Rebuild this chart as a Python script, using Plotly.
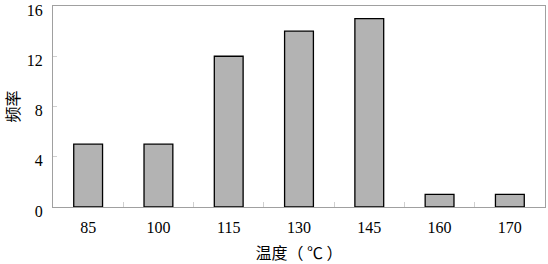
import plotly.graph_objects as go

categories = ["85", "100", "115", "130", "145", "160", "170"]
values = [5, 5, 12, 14, 15, 1, 1]
y_ticks = [0, 4, 8, 12, 16]

fig = go.Figure(go.Bar(
    x=categories, y=values, width=0.41,
    marker=dict(color="#b3b3b3", line=dict(color="#000000", width=1.3)),
))

fig.update_layout(
    width=548, height=264,
    margin=dict(l=51, r=2, t=2, b=57),
    paper_bgcolor="white", plot_bgcolor="white",
    showlegend=False,
    font=dict(family="Liberation Serif", size=16, color="#000000"),
)
fig.update_xaxes(
    type="category", showline=True, linecolor="#a0a0a0", linewidth=1.2, mirror=True,
    ticks="inside", tickson="boundaries", ticklen=5, tickcolor="#d0d0d0",
    showgrid=False, ticklabelstandoff=6,
    title=dict(text="温度（ ℃ ）", font=dict(family="Noto Sans CJK SC", size=16), standoff=14),
)
fig.update_yaxes(
    range=[0, 16.001], tickvals=y_ticks, showline=True, linecolor="#a0a0a0", linewidth=1.2, mirror=True,
    ticks="inside", ticklen=4, tickcolor="#d0d0d0", showgrid=False, zeroline=False,
    ticklabelshift=4, ticklabelstandoff=6, ticklabeloverflow="allow",
    title=dict(text="频率", font=dict(family="Noto Sans CJK SC", size=16), standoff=14),
)

fig.write_html("out.html")
